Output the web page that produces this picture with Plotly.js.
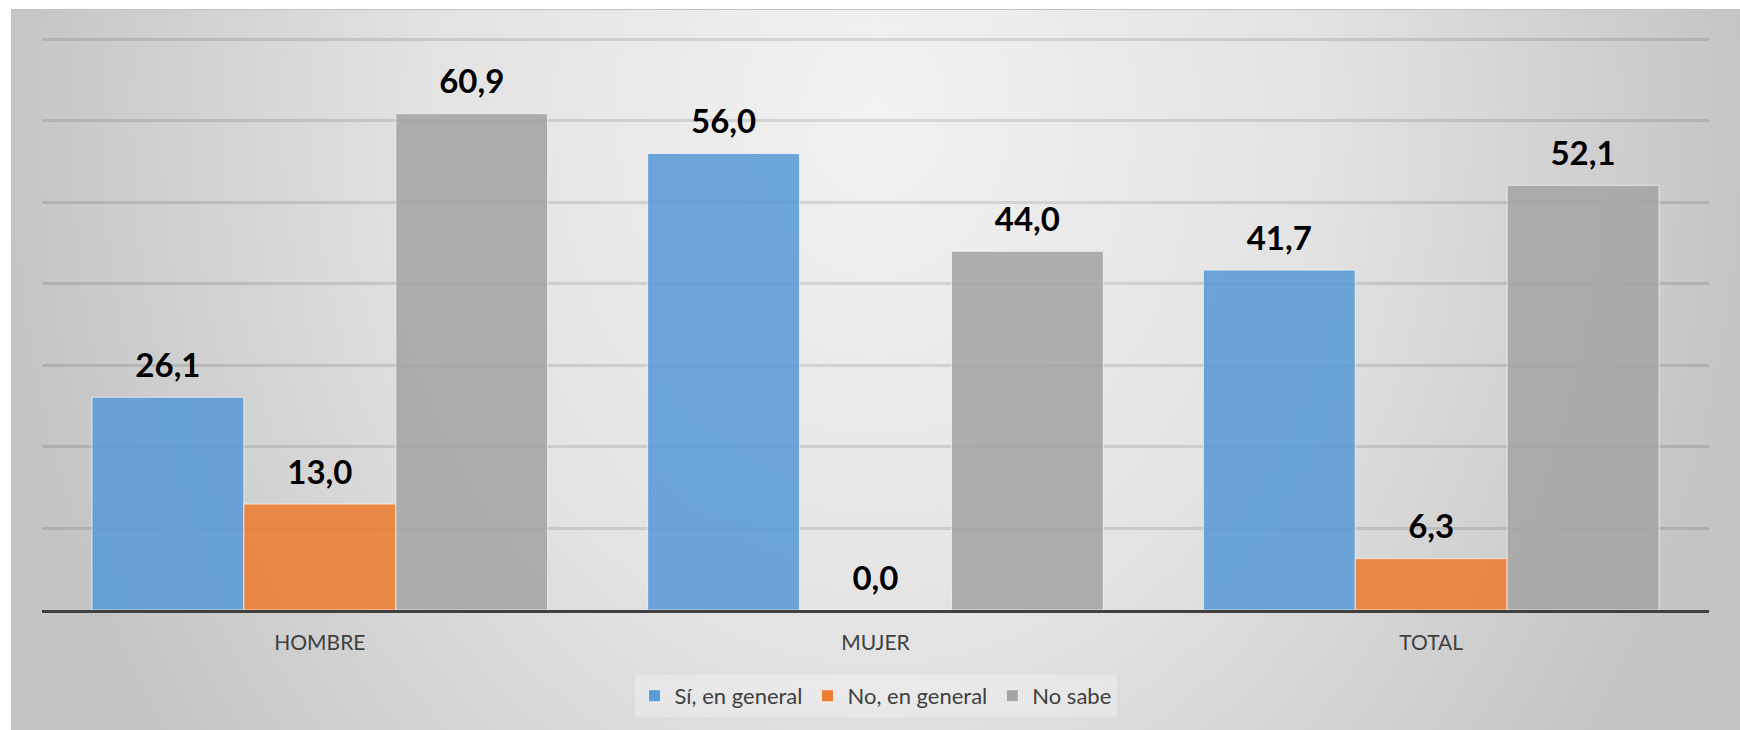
<!DOCTYPE html>
<html>
<head>
<meta charset="utf-8">
<script src="https://cdn.plot.ly/plotly-3.0.1.min.js"></script>
<style>
  html, body { margin: 0; padding: 0; background: #ffffff; }
  #bg {
    position: absolute; left: 11px; top: 9px; width: 1729px; height: 721px;
    box-sizing: border-box;
    border-top: 1px solid #c2c2c2; border-left: 1px solid #c2c2c2;
    background: radial-gradient(ellipse 880px 1100px at 50% 14%, #f2f2f2 0%, #e3e3e3 50%, #c4c4c4 100%);
  }
  #chart { position: absolute; left: 0; top: 0; width: 1740px; height: 730px; }
</style>
</head>
<body>
<div id="bg"></div>
<div id="chart"></div>
<script>
const categories = ['HOMBRE', 'MUJER', 'TOTAL'];
const seriesNames = ['Sí, en general', 'No, en general', 'No sabe'];
const siEnGeneral = [26.1, 56.0, 41.7];
const noEnGeneral = [13.0, 0.0, 6.3];
const noSabe = [60.9, 44.0, 52.1];
const seriesColors = ['#5b9bd5', '#ed7d31', '#a5a5a5'];

const seriesValues = [siEnGeneral, noEnGeneral, noSabe];
const FONT = 'Lato, "Open Sans", sans-serif';

const traces = [];
seriesValues.forEach((vals, i) => {
  traces.push({
    type: 'bar',
    name: seriesNames[i],
    x: categories,
    y: vals,
    offsetgroup: String(i),
    marker: { color: seriesColors[i], opacity: 0.88, line: { color: 'rgba(255,255,255,0.7)', width: 1 } },
    hoverinfo: 'skip'
  });
});
seriesValues.forEach((vals, i) => {
  traces.push({
    type: 'scatter',
    mode: 'markers+text',
    x: categories,
    y: vals,
    offsetgroup: String(i),
    showlegend: false,
    hoverinfo: 'skip',
    cliponaxis: false,
    marker: { size: 18, opacity: 0 },
    texttemplate: '%{y:.1f}',
    textposition: 'top center',
    textfont: { family: FONT, size: 33, weight: 700, color: '#000000' }
  });
});

const layout = {
  width: 1740,
  height: 730,
  paper_bgcolor: 'rgba(0,0,0,0)',
  plot_bgcolor: 'rgba(0,0,0,0)',
  separators: ',.',
  margin: { l: 42, r: 31, t: 37, b: 120 },
  barmode: 'group',
  bargap: 0.18,
  bargroupgap: 0,
  scattermode: 'group',
  scattergap: 0.18,
  showlegend: true,
  legend: {
    orientation: 'h',
    x: 0.5, xanchor: 'center',
    y: -0.150, yanchor: 'middle',
    bgcolor: 'rgba(255,255,255,0.28)',
    font: { family: FONT, size: 22, color: '#404040' },
    itemwidth: 30,
    traceorder: 'normal'
  },
  xaxis: {
    type: 'category',
    showline: true,
    linecolor: '#404040',
    linewidth: 3,
    layer: 'above traces',
    showgrid: false,
    ticks: '',
    ticklabelstandoff: 12,
    tickfont: { family: FONT, size: 21, color: '#404040' }
  },
  yaxis: {
    range: [0, 70.3],
    dtick: 10,
    tick0: 0,
    showgrid: true,
    gridcolor: 'rgba(0,0,0,0.11)',
    gridwidth: 3,
    zeroline: false,
    showticklabels: false,
    ticks: ''
  }
};

Plotly.newPlot('chart', traces, layout, { displayModeBar: false, staticPlot: true });
</script>
</body>
</html>
